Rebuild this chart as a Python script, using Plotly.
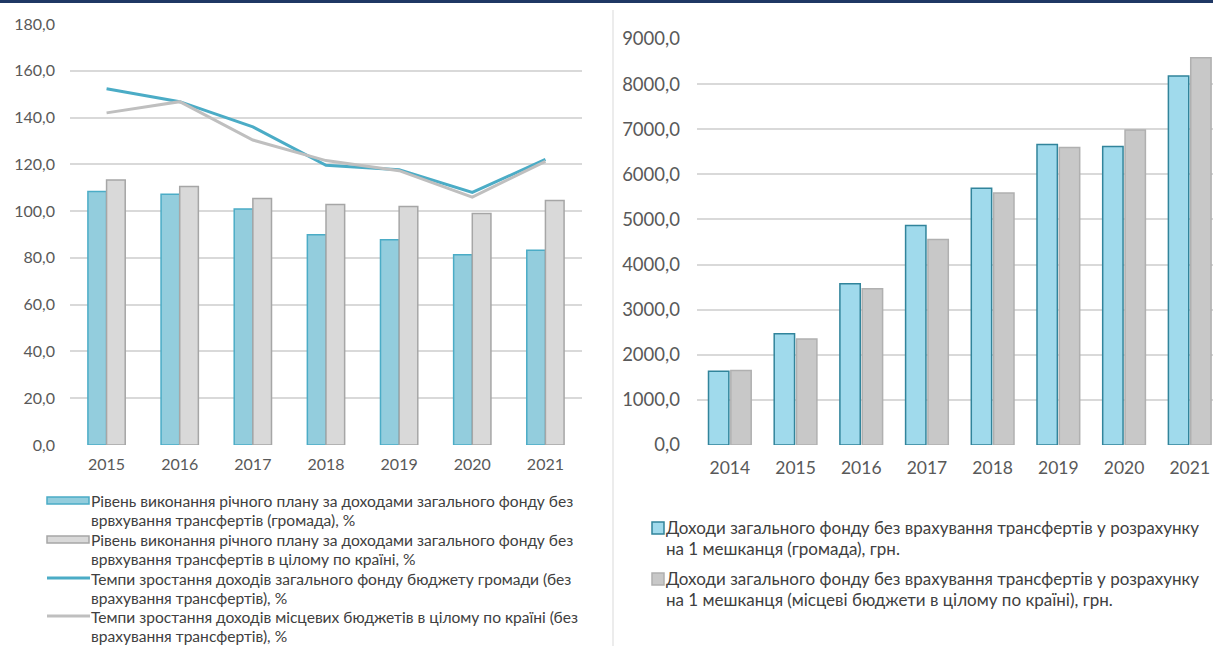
import plotly.graph_objects as go

# ---------------- data ----------------
years_left = ["2015", "2016", "2017", "2018", "2019", "2020", "2021"]
plan_hromada = [108.4, 107.2, 100.9, 89.9, 87.8, 81.3, 83.3]
plan_country = [113.3, 110.5, 105.4, 102.8, 102.0, 99.0, 104.5]
growth_hromada = [152.3, 146.8, 136.0, 119.6, 117.7, 108.0, 122.1]
growth_country = [142.0, 146.8, 130.4, 121.6, 117.3, 106.0, 121.3]

years_right = ["2014", "2015", "2016", "2017", "2018", "2019", "2020", "2021"]
per_capita_hromada = [1635, 2465, 3576, 4867, 5689, 6659, 6615, 8178]
per_capita_country = [1650, 2347, 3465, 4553, 5585, 6593, 6985, 8585]

left_legend = [
    ["Рівень виконання річного плану за доходами загального фонду без",
     "врвхування трансфертів (громада), %"],
    ["Рівень виконання річного плану за доходами загального фонду без",
     "врвхування трансфертів в цілому по країні, %"],
    ["Темпи зростання доходів загального фонду бюджету громади (без",
     "врахування трансфертів), %"],
    ["Темпи зростання доходів місцевих бюджетів в цілому по країні (без",
     "врахування трансфертів), %"],
]
right_legend = [
    ["Доходи загального фонду без врахування трансфертів у розрахунку",
     "на 1 мешканця (громада), грн."],
    ["Доходи загального фонду без врахування трансфертів у розрахунку",
     "на 1 мешканця (місцеві бюджети в цілому по країні), грн."],
]

W, H = 1213, 646
FONT = "Lato"
TXT = "#595959"
LEG = "#404040"

def px(x):
    return x / W

def py(y):
    return 1 - y / H

fig = go.Figure()

# left chart
fig.add_trace(go.Bar(x=years_left, y=plan_hromada, name=left_legend[0][0],
                     marker=dict(color="#93CDDD", line=dict(color="#4BACC6", width=1.5)),
                     xaxis="x", yaxis="y"))
fig.add_trace(go.Bar(x=years_left, y=plan_country, name=left_legend[1][0],
                     marker=dict(color="#D9D9D9", line=dict(color="#A6A6A6", width=1.5)),
                     xaxis="x", yaxis="y"))
fig.add_trace(go.Scatter(x=years_left, y=growth_hromada, mode="lines", name=left_legend[2][0],
                         line=dict(color="#4BACC6", width=3), xaxis="x", yaxis="y"))
fig.add_trace(go.Scatter(x=years_left, y=growth_country, mode="lines", name=left_legend[3][0],
                         line=dict(color="#BFBFBF", width=3), xaxis="x", yaxis="y"))

# right chart
fig.add_trace(go.Bar(x=years_right, y=per_capita_hromada, name=right_legend[0][0],
                     marker=dict(color="#A0DAEC", line=dict(color="#31849B", width=1.5)),
                     xaxis="x2", yaxis="y2", width=0.31, offset=-0.325))
fig.add_trace(go.Bar(x=years_right, y=per_capita_country, name=right_legend[1][0],
                     marker=dict(color="#C8C8C8", line=dict(color="#B0B0B0", width=1.5)),
                     xaxis="x2", yaxis="y2", width=0.31, offset=0.015))

fig.update_layout(
    width=W, height=H,
    margin=dict(l=0, r=0, t=0, b=0, pad=0, autoexpand=False),
    paper_bgcolor="white", plot_bgcolor="white",
    showlegend=False,
    separators=", ",
    barmode="group",
    bargap=0.49, bargroupgap=0.0,
    font=dict(family=FONT, color=TXT),
    xaxis=dict(domain=[px(70), px(582)], type="category", showgrid=False, automargin=False,
               range=[-0.5, 6.5], anchor="y", ticklabelstandoff=8,
               tickfont=dict(family=FONT, color=TXT, size=16), ticks="", showline=False),
    yaxis=dict(domain=[py(445), py(24)], range=[0, 180], dtick=20, tickformat=".1f",
               gridcolor="#D9D9D9", gridwidth=1.5, zeroline=False, anchor="x", automargin=False,
               ticklabelstandoff=14,
               tickfont=dict(family=FONT, color=TXT, size=16), ticks="", showline=False),
    xaxis2=dict(domain=[px(697), 1.0], type="category", showgrid=False, automargin=False,
                range=[-0.5, 7.354], anchor="y2", ticklabelstandoff=10,
                tickfont=dict(family=FONT, color=TXT, size=17.5), ticks="", showline=False),
    yaxis2=dict(domain=[py(445), py(39)], range=[0, 9000], dtick=1000, tickformat=".1f",
                gridcolor="#D9D9D9", gridwidth=1.5, zeroline=False, anchor="x2", automargin=False,
                ticklabelstandoff=16,
                tickfont=dict(family=FONT, color=TXT, size=18.5), ticks="", showline=False),
)

shapes = []
# top navy rule and separator
shapes.append(dict(type="rect", xref="paper", yref="paper", x0=0, x1=1, y0=py(3), y1=1,
                   fillcolor="#1F3864", line=dict(width=0)))
shapes.append(dict(type="line", xref="paper", yref="paper", x0=px(613), x1=px(613),
                   y0=0, y1=py(10), line=dict(color="#D9D9D9", width=1)))

annotations = []
# left legend
left_rows = [501, 540, 579, 617]
for i, (lines, yc) in enumerate(zip(left_legend, left_rows)):
    if i == 0:
        shapes.append(dict(type="rect", xref="paper", yref="paper", x0=px(47), x1=px(89),
                           y0=py(yc + 3), y1=py(yc - 4), fillcolor="#93CDDD",
                           line=dict(color="#4BACC6", width=1.5)))
    elif i == 1:
        shapes.append(dict(type="rect", xref="paper", yref="paper", x0=px(47), x1=px(89),
                           y0=py(yc + 3), y1=py(yc - 4), fillcolor="#D9D9D9",
                           line=dict(color="#A6A6A6", width=1.5)))
    else:
        color = "#4BACC6" if i == 2 else "#BFBFBF"
        shapes.append(dict(type="line", xref="paper", yref="paper", x0=px(47), x1=px(90),
                           y0=py(yc - 1), y1=py(yc - 1), line=dict(color=color, width=3)))
    for j, t in enumerate(lines):
        annotations.append(dict(text=t, xref="paper", yref="paper", x=px(90),
                                y=py(yc + j * 19), xanchor="left", yanchor="middle",
                                showarrow=False, borderpad=0,
                                font=dict(family=FONT, size=15.6, color=LEG)))

# right legend
right_rows = [527, 578]
for i, (lines, yc) in enumerate(zip(right_legend, right_rows)):
    fill, edge = ("#A0DAEC", "#31849B") if i == 0 else ("#C8C8C8", "#B0B0B0")
    shapes.append(dict(type="rect", xref="paper", yref="paper", x0=px(652), x1=px(664),
                       y0=py(yc + 7), y1=py(yc - 5), fillcolor=fill,
                       line=dict(color=edge, width=1.5)))
    for j, t in enumerate(lines):
        annotations.append(dict(text=t, xref="paper", yref="paper", x=px(665),
                                y=py(yc + j * 21), xanchor="left", yanchor="middle",
                                showarrow=False, borderpad=0,
                                font=dict(family=FONT, size=17, color=LEG)))

fig.update_layout(shapes=shapes, annotations=annotations)

fig.write_html("out.html", config={"displayModeBar": False},
               post_script="document.body.style.margin='0';document.body.style.overflow='hidden';")
